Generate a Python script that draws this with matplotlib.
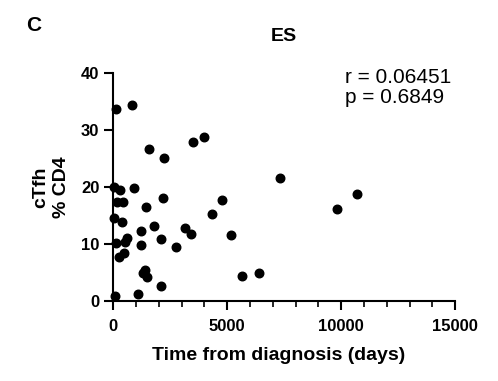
import matplotlib
matplotlib.use("Agg")
import matplotlib.pyplot as plt
from matplotlib.ticker import MultipleLocator

plt.rcParams['font.family'] = ['Liberation Sans', 'DejaVu Sans']

# Time from diagnosis (days) vs cTfh % CD4
days = [102, 833, 1550, 2208, 3480, 3962, 7300, 29, 292, 921,
        146, 439, 2178, 1447, 4766, 44, 380, 4327, 1784, 1199,
        3143, 3392, 5161, 585, 526, 117, 1228, 2105, 2763, 482,
        263, 1374, 1316, 1491, 5629, 6380, 2105, 1067, 58, 9811,
        10702]
ctfh = [33.7, 34.4, 26.7, 25.1, 28.0, 28.8, 21.7, 20.1, 19.6, 19.8,
        17.4, 17.4, 18.2, 16.5, 17.8, 14.6, 13.9, 15.4, 13.2, 12.3,
        12.9, 11.8, 11.6, 11.1, 10.5, 10.2, 9.8, 11.0, 9.6, 8.4,
        7.8, 5.5, 4.9, 4.3, 4.4, 4.9, 2.7, 1.3, 0.9, 16.2,
        18.8]
r_value = 0.06451
p_value = 0.6849

fig = plt.figure(figsize=(4.98, 3.81), dpi=100)
ax = fig.add_axes([0.2275, 0.209, 0.6865, 0.5986])

ax.scatter(days, ctfh, s=38, color='black', zorder=3, clip_on=False)

ax.set_xlim(0, 15000)
ax.set_ylim(0, 40)
ax.xaxis.set_major_locator(MultipleLocator(5000))
ax.xaxis.set_minor_locator(MultipleLocator(1000))
ax.yaxis.set_major_locator(MultipleLocator(10))

for side in ['top', 'right']:
    ax.spines[side].set_visible(False)
for side in ['left', 'bottom']:
    ax.spines[side].set_linewidth(1.5)

ax.tick_params(which='major', width=1.5, length=6.5, labelsize=12)
ax.tick_params(axis='x', which='major', pad=6.5)
ax.tick_params(axis='y', which='major', pad=3.5)
ax.tick_params(which='minor', width=1.2, length=4)
for lbl in ax.get_xticklabels() + ax.get_yticklabels():
    lbl.set_fontweight('bold')

ax.set_xlabel('Time from diagnosis (days)', fontsize=14, fontweight='bold', labelpad=6)
ax.xaxis.set_label_coords(0.485, -0.2)
ax.xaxis.label.set_va('top')
ax.set_ylabel('cTfh\n% CD4', fontsize=14, fontweight='bold', linespacing=1.25, labelpad=8)
ax.set_title('ES', fontsize=14, fontweight='bold', pad=23)

ax.text(0.677, 1.025, f'r = {r_value}\np = {p_value}', transform=ax.transAxes,
        fontsize=15, va='top', ha='left', linespacing=1.1)

fig.text(0.052, 0.932, 'C', fontsize=15, fontweight='bold', va='center')

fig.savefig('out.png', dpi=100)
